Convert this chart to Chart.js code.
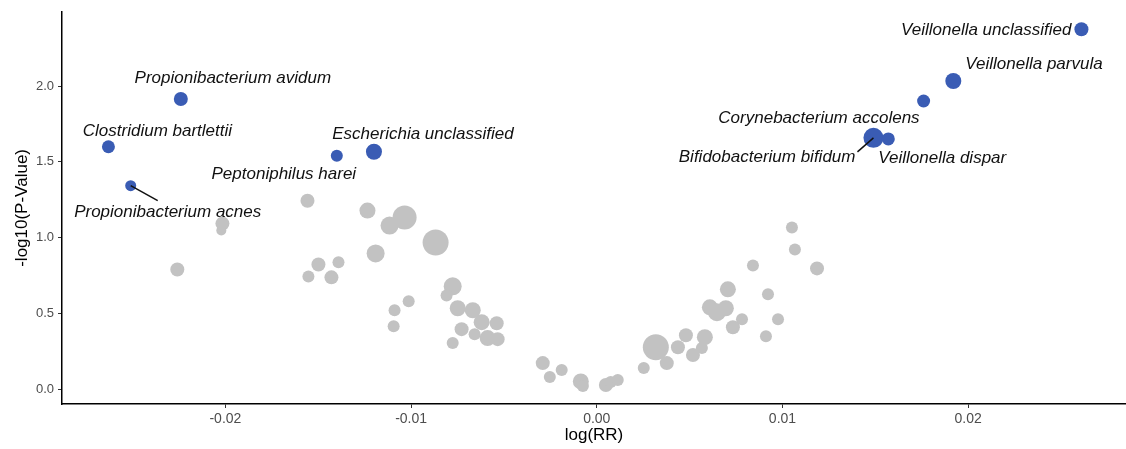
<!DOCTYPE html>
<html>
<head>
<meta charset="utf-8">
<script src="https://cdn.jsdelivr.net/npm/chart.js@4/dist/chart.umd.min.js"></script>
<style>
  html, body { margin: 0; padding: 0; background: #fff; }
  #wrap { width: 1126px; height: 449px; }
</style>
</head>
<body>
<div id="wrap"><canvas id="volcano"></canvas></div>
<script>
// significant taxa (blue, labelled)
const sigNames = [
  "Veillonella unclassified", "Veillonella parvula", "Corynebacterium accolens",
  "Bifidobacterium bifidum", "Veillonella dispar", "Propionibacterium avidum",
  "Clostridium bartlettii", "Propionibacterium acnes", "Peptoniphilus harei",
  "Escherichia unclassified"
];
const sigLogRR = [0.0261, 0.0192, 0.0176, 0.0149, 0.0157, -0.0224, -0.0263, -0.0251, -0.0140, -0.0120];
const sigLogP  = [2.375, 2.033, 1.901, 1.658, 1.651, 1.914, 1.599, 1.342, 1.539, 1.566];
const sigSize  = [4, 5, 3.5, 7, 3.5, 4, 3.5, 2.5, 3, 5];

// non-significant taxa (grey)
const nsLogRR = [
  -0.02259, -0.02016, -0.02022, -0.01558, -0.01235, -0.01116, -0.01035, -0.00868, -0.01191, -0.01499,
  -0.01391, -0.01553, -0.01429, -0.00776, -0.00809, -0.01013, -0.01089, -0.01094, -0.00749, -0.00668,
  -0.00620, -0.00539, -0.00728, -0.00658, -0.00588, -0.00534, -0.00776, -0.00291, -0.00253, -0.00189,
  -0.00086, -0.00075, 0.00049, 0.00075, 0.00113, 0.00253, 0.00318, 0.00377, 0.00437, 0.00480,
  0.00518, 0.00566, 0.00582, 0.00609, 0.00647, 0.00695, 0.00706, 0.00733, 0.00782, 0.00841,
  0.00922, 0.00911, 0.00976, 0.01051, 0.01067, 0.01186
];
const nsLogP = [
  0.789, 1.092, 1.046, 1.243, 1.178, 1.079, 1.132, 0.967, 0.895, 0.822,
  0.836, 0.743, 0.737, 0.678, 0.618, 0.579, 0.520, 0.414, 0.533, 0.520,
  0.441, 0.434, 0.395, 0.362, 0.336, 0.329, 0.303, 0.171, 0.079, 0.125,
  0.050, 0.020, 0.026, 0.046, 0.059, 0.138, 0.276, 0.171, 0.276, 0.355,
  0.224, 0.270, 0.342, 0.539, 0.507, 0.533, 0.658, 0.408, 0.461, 0.816,
  0.625, 0.349, 0.461, 1.066, 0.921, 0.796
];
const nsSize = [
  4, 4, 2, 4, 5, 6, 9, 10, 6, 4,
  3, 3, 4, 6, 3, 3, 3, 3, 5, 5,
  5, 4, 4, 3, 5, 4, 3, 4, 3, 3,
  5, 3, 4, 3, 3, 3, 10, 4, 4, 4,
  4, 3, 5, 5, 6, 5, 5, 4, 3, 3,
  3, 3, 3, 3, 3, 4
];

const xTicks = [-0.02, -0.01, 0, 0.01, 0.02];
const yTicks = [0, 0.5, 1.0, 1.5, 2.0];

const radiusOf = s => 3 + s;

const sigPoints = sigLogRR.map((x, i) => ({ x: x, y: sigLogP[i], r: radiusOf(sigSize[i]) }));
const nsPoints = nsLogRR.map((x, i) => ({ x: x, y: nsLogP[i], r: radiusOf(nsSize[i]) }));

// label placement relative to each point (px)
const labelPlace = {
  "Veillonella unclassified": { dx: -10, dy: 1, align: "right" },
  "Veillonella parvula": { dx: 12, dy: -17, align: "left" },
  "Corynebacterium accolens": { dx: -4, dy: 17, align: "right" },
  "Bifidobacterium bifidum": { dx: -18, dy: 19, align: "right", leader: [-16, 14] },
  "Veillonella dispar": { dx: -10, dy: 19, align: "left" },
  "Propionibacterium avidum": { dx: 52, dy: -21, align: "center" },
  "Clostridium bartlettii": { dx: 49, dy: -16, align: "center" },
  "Propionibacterium acnes": { dx: 37, dy: 27, align: "center", leader: [27, 15] },
  "Peptoniphilus harei": { dx: -53, dy: 18, align: "center" },
  "Escherichia unclassified": { dx: 49, dy: -18, align: "center" }
};

const labelPlugin = {
  id: 'taxonLabels',
  afterDatasetsDraw(chart) {
    const ctx = chart.ctx;
    const meta = chart.getDatasetMeta(0);
    ctx.save();
    ctx.font = 'italic 17px "Liberation Sans", Arial, sans-serif';
    ctx.fillStyle = '#111';
    ctx.textBaseline = 'middle';
    meta.data.forEach((el, i) => {
      const p = labelPlace[sigNames[i]];
      if (!p) return;
      if (p.leader) {
        ctx.strokeStyle = '#111';
        ctx.lineWidth = 1.5;
        ctx.beginPath();
        ctx.moveTo(el.x, el.y);
        ctx.lineTo(el.x + p.leader[0], el.y + p.leader[1]);
        ctx.stroke();
      }
      ctx.textAlign = p.align;
      ctx.fillText(sigNames[i], el.x + p.dx, el.y + p.dy);
    });
    ctx.restore();
  }
};

new Chart(document.getElementById('volcano'), {
  type: 'bubble',
  data: {
    datasets: [
      { label: 'significant', data: sigPoints, backgroundColor: '#3a5cb4', borderWidth: 0, hoverBorderWidth: 0 },
      { label: 'ns', data: nsPoints, backgroundColor: '#c2c2c2', borderWidth: 0, hoverBorderWidth: 0 }
    ]
  },
  options: {
    responsive: true,
    maintainAspectRatio: false,
    animation: false,
    layout: { autoPadding: false, padding: { top: 10, right: 0, left: 12, bottom: 3 } },
    plugins: {
      legend: { display: false },
      tooltip: { enabled: false }
    },
    scales: {
      x: {
        type: 'linear',
        min: -0.0288,
        max: 0.0285,
        afterBuildTicks: s => { s.ticks = xTicks.map(v => ({ value: v })); },
        afterFit: s => { s.height = 42; },
        grid: { drawOnChartArea: false, drawTicks: true, tickLength: 4, color: '#333', lineWidth: 1 },
        border: { display: true, color: '#000', width: 1.5 },
        ticks: {
          color: '#4d4d4d',
          padding: 3,
          font: { family: '"Liberation Sans", Arial, sans-serif', size: 14 },
          callback: v => v === 0 ? '0.00' : v.toFixed(2)
        },
        title: {
          display: true, text: 'log(RR)', color: '#000', padding: 0,
          font: { family: '"Liberation Sans", Arial, sans-serif', size: 17 }
        }
      },
      y: {
        type: 'linear',
        min: -0.099,
        max: 2.49,
        afterBuildTicks: s => { s.ticks = yTicks.map(v => ({ value: v })); },
        afterFit: s => { s.width = 50; },
        grid: { drawOnChartArea: false, drawTicks: true, tickLength: 4, color: '#333', lineWidth: 1 },
        border: { display: true, color: '#000', width: 1.5 },
        ticks: {
          color: '#4d4d4d',
          padding: 4,
          font: { family: '"Liberation Sans", Arial, sans-serif', size: 13 },
          callback: v => v.toFixed(1)
        },
        title: {
          display: true, text: '-log10(P-Value)', color: '#000', padding: 0,
          font: { family: '"Liberation Sans", Arial, sans-serif', size: 17 }
        }
      }
    }
  },
  plugins: [labelPlugin]
});
</script>
</body>
</html>
